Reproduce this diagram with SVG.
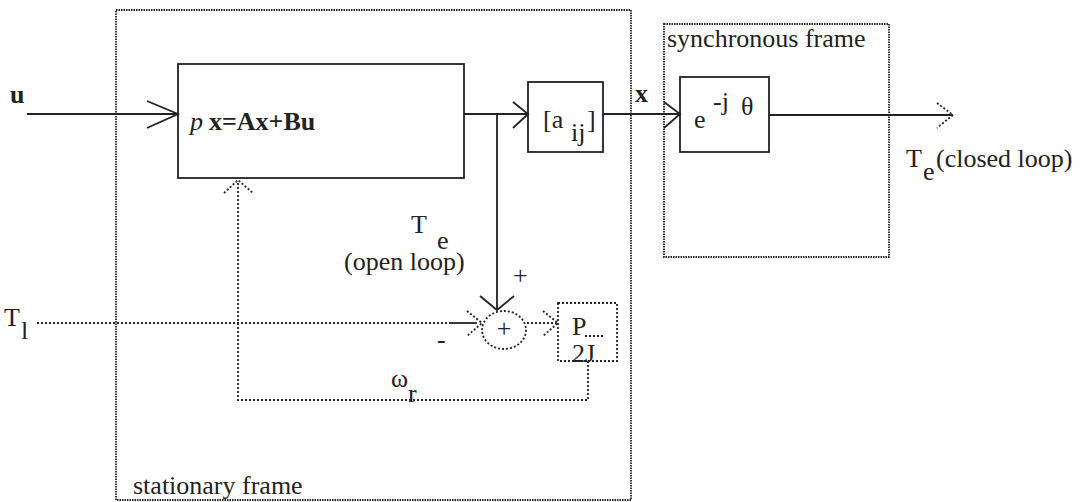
<svg xmlns="http://www.w3.org/2000/svg" width="1082" height="502" viewBox="0 0 1082 502">
<style>
.frame{fill:none;stroke:#222;stroke-width:1.8;stroke-dasharray:1.5 1}
.box{fill:none;stroke:#222;stroke-width:1.8}
.dbox{fill:none;stroke:#222;stroke-width:1.8;stroke-dasharray:2 2}
.s{fill:none;stroke:#222;stroke-width:1.8}
.d{fill:none;stroke:#222;stroke-width:1.8;stroke-dasharray:2 2}
text{font-family:'Liberation Serif','DejaVu Serif',serif;font-size:26px;fill:#222}
.b{font-weight:bold}
</style>
<rect width="1082" height="502" fill="#fff"/>
<g id="stationary-frame">
<rect class="frame" x="116" y="10" width="515" height="490"/>
<text x="133" y="494">stationary frame</text>
</g>
<g id="synchronous-frame">
<rect class="frame" x="664" y="24" width="225" height="233"/>
<text x="667" y="47">synchronous frame</text>
</g>
<g id="state-block">
<rect class="box" x="178" y="64" width="286" height="114"/>
<text x="190" y="130" font-size="25"><tspan font-style="italic">p</tspan><tspan class="b" dx="6">x=Ax+Bu</tspan></text>
</g>
<g id="aij-block">
<rect class="box" x="528" y="82" width="75" height="70"/>
<text x="543" y="128">[a</text>
<text x="571" y="141">ij</text>
<text x="587" y="128">]</text>
</g>
<g id="rot-block">
<rect class="box" x="680" y="77" width="89" height="75"/>
<text x="694" y="128">e</text>
<text x="713" y="110">-j</text>
<text x="741" y="115">θ</text>
</g>
<g id="sum">
<ellipse class="d" cx="504" cy="330" rx="22" ry="19"/>
<text x="504" y="337" text-anchor="middle" font-size="20">+</text>
</g>
<g id="gain-block">
<rect class="dbox" x="558" y="303" width="59" height="58"/>
<text x="572" y="335">P</text>
<line class="d" x1="585" y1="336" x2="603" y2="336"/>
<text x="572" y="362">2J</text>
</g>
<g id="connectors">
<line class="s" x1="27" y1="114" x2="178" y2="114"/>
<polyline class="s" points="147,101 178,114 147,128"/>
<line class="s" x1="464" y1="114" x2="528" y2="114"/>
<polyline class="s" points="513,102 528,114 513,128"/>
<line class="s" x1="603" y1="114" x2="680" y2="114"/>
<polyline class="s" points="664,102 680,114 664,128"/>
<line class="s" x1="769" y1="115" x2="953" y2="115"/>
<polyline class="d" points="937,103 953,115 937,128"/>
<line class="s" x1="497" y1="114" x2="497" y2="310"/>
<polyline class="s" points="480,296 497,310 514,296"/>
<line class="d" x1="37" y1="323" x2="449" y2="323"/>
<line class="s" x1="449" y1="323" x2="477" y2="323"/>
<polyline class="d" points="467,311 482,323 467,336"/>
<line class="d" x1="527" y1="323" x2="556" y2="323"/>
<polyline class="d" points="543,311 558,323 543,336"/>
<polyline class="d" points="588,361 588,400 238,400 238,181"/>
<polyline class="d" points="224,193 238,180 253,193"/>
</g>
<g id="labels">
<text class="b" x="10" y="103">u</text>
<text class="b" x="635" y="102">x</text>
<text x="411" y="233">T</text>
<text x="437" y="249">e</text>
<text x="344" y="270">(open loop)</text>
<text x="513" y="284">+</text>
<text x="437" y="348">-</text>
<text x="4" y="326">T</text>
<text x="21" y="339">l</text>
<text x="391" y="387">ω</text>
<text x="408" y="402">r</text>
<text x="906" y="167">T</text>
<text x="923" y="180">e</text>
<text x="936" y="167">(closed loop)</text>
</g>
</svg>
